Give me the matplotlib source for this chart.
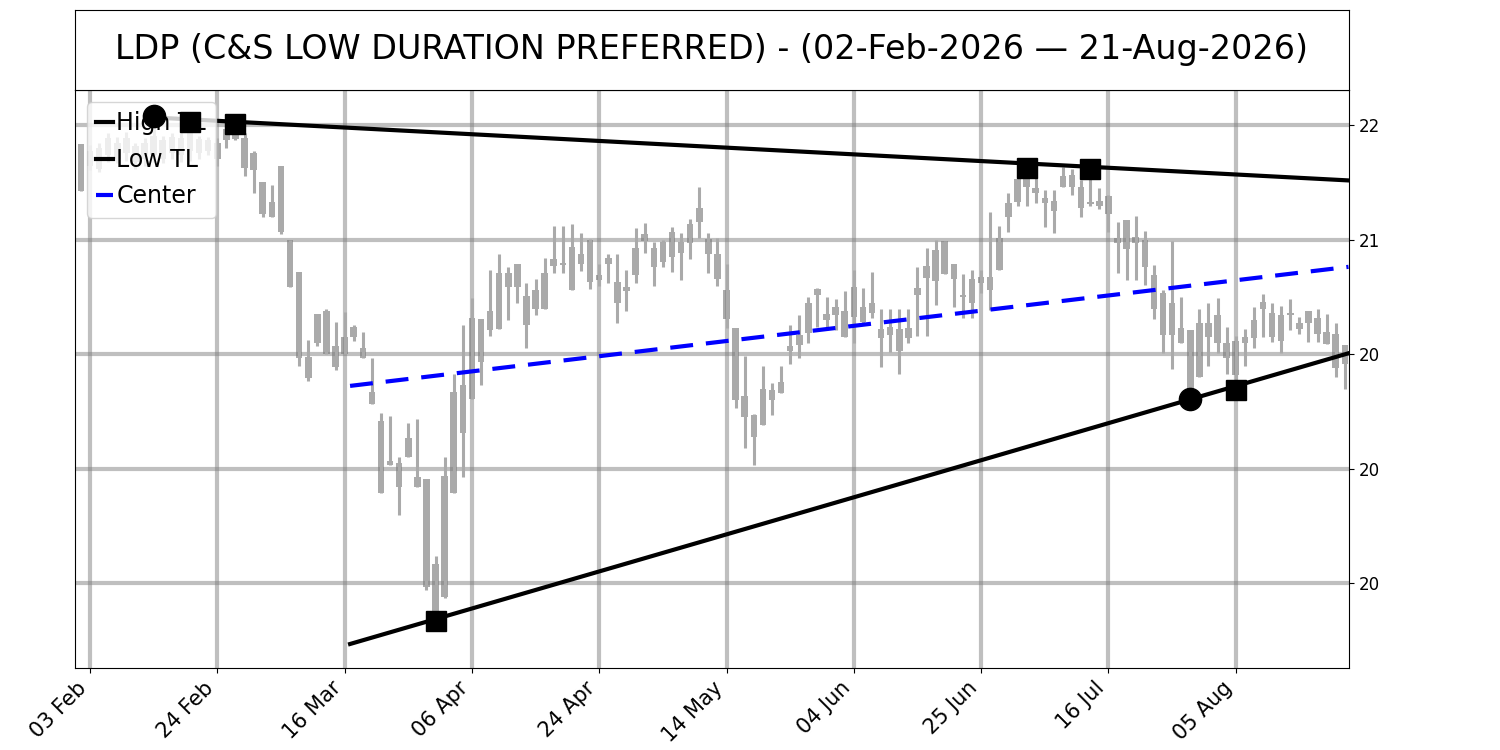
import matplotlib
matplotlib.use("Agg")
import matplotlib.pyplot as plt
import numpy as np

# daily bars, index 0 = 02-Feb-2026 ... 139 = 21-Aug-2026 (trading days)
opens = [21.43, 21.78, 21.62, 21.74, 21.85, 21.76, 21.82, 21.71, 21.74, 21.87,
         21.76, 21.89, 21.78, 21.88, 21.78, 21.71, 21.87, 21.99, 21.89, 21.61,
         21.51, 21.20, 21.07, 21.00, 20.72, 19.98, 20.10, 20.00, 20.07, 20.00,
         20.15, 20.06, 19.67, 19.42, 19.03, 18.84, 19.10, 18.93, 18.91, 17.71,
         17.88, 18.79, 19.31, 19.61, 20.31, 20.21, 20.22, 20.71, 20.59, 20.51,
         20.40, 20.40, 20.77, 20.80, 20.56, 20.88, 20.63, 20.69, 20.79, 20.63,
         20.55, 20.69, 20.99, 20.93, 20.81, 20.85, 20.98, 20.97, 21.16, 21.01,
         20.88, 20.56, 20.23, 19.64, 19.28, 19.38, 19.60, 19.66, 20.03, 20.17,
         20.19, 20.52, 20.35, 20.34, 20.38, 20.33, 20.41, 20.36, 20.22, 20.17,
         20.22, 20.14, 20.52, 20.67, 20.64, 20.70, 20.79, 20.52, 20.45, 20.62,
         20.56, 20.74, 21.20, 21.33, 21.54, 21.41, 21.37, 21.25, 21.46, 21.57,
         21.46, 21.31, 21.34, 21.38, 21.02, 20.92, 21.03, 21.00, 20.69, 20.54,
         20.17, 20.23, 20.21, 19.80, 20.27, 20.10, 20.10, 19.82, 20.15, 20.14,
         20.40, 20.36, 20.12, 20.34, 20.27, 20.27, 20.32, 20.20, 20.18, 19.92]
highs = [21.84, 21.83, 21.85, 21.93, 21.90, 21.94, 21.85, 21.89, 22.08, 21.91,
         21.93, 21.94, 22.03, 21.91, 21.90, 21.89, 22.00, 22.01, 21.93, 21.78,
         21.51, 21.48, 21.65, 21.00, 20.72, 20.13, 20.35, 20.40, 20.28, 20.37,
         20.26, 20.20, 19.97, 19.49, 19.46, 19.10, 19.40, 19.44, 18.91, 18.24,
         19.10, 19.83, 20.26, 20.49, 20.31, 20.74, 20.88, 20.76, 20.79, 20.62,
         20.66, 20.84, 21.12, 21.12, 21.14, 21.06, 21.01, 20.79, 20.88, 20.88,
         20.74, 21.10, 21.15, 20.98, 21.00, 21.11, 21.06, 21.18, 21.46, 21.06,
         21.02, 20.79, 20.23, 19.99, 19.48, 19.90, 19.75, 19.90, 20.26, 20.34,
         20.50, 20.58, 20.50, 20.48, 20.55, 20.74, 20.58, 20.72, 20.40, 20.40,
         20.40, 20.40, 20.76, 20.93, 21.00, 20.99, 20.79, 20.70, 20.74, 20.74,
         21.24, 21.12, 21.41, 21.54, 21.63, 21.54, 21.44, 21.44, 21.64, 21.62,
         21.52, 21.62, 21.45, 21.39, 21.16, 21.17, 21.21, 21.08, 20.78, 20.56,
         20.99, 20.50, 20.21, 20.40, 20.45, 20.49, 20.24, 20.16, 20.22, 20.41,
         20.53, 20.45, 20.42, 20.48, 20.33, 20.38, 20.40, 20.35, 20.27, 20.08]
lows = [21.43, 21.61, 21.59, 21.68, 21.67, 21.69, 21.62, 21.65, 21.68, 21.67,
        21.71, 21.68, 21.69, 21.71, 21.74, 21.65, 21.80, 21.87, 21.56, 21.41,
        21.20, 21.20, 21.05, 20.59, 19.90, 19.77, 20.07, 20.00, 19.86, 20.00,
        20.12, 19.97, 19.57, 18.79, 19.03, 18.60, 19.10, 18.84, 17.94, 17.67,
        17.87, 18.79, 18.93, 19.61, 19.73, 20.16, 20.22, 20.30, 20.45, 20.06,
        20.34, 20.40, 20.71, 20.71, 20.56, 20.73, 20.57, 20.60, 20.62, 20.27,
        20.38, 20.62, 20.89, 20.60, 20.76, 20.72, 20.65, 20.83, 21.02, 20.71,
        20.60, 20.23, 19.53, 19.18, 19.03, 19.38, 19.47, 19.66, 19.92, 19.97,
        20.10, 20.24, 20.24, 20.21, 20.15, 20.10, 20.27, 20.32, 19.89, 20.02,
        19.83, 20.10, 20.16, 20.16, 20.43, 20.70, 20.41, 20.32, 20.32, 20.54,
        20.39, 20.74, 21.07, 21.30, 21.30, 21.32, 21.11, 21.06, 21.46, 21.39,
        21.20, 21.30, 21.27, 21.07, 20.71, 20.65, 20.65, 20.61, 20.31, 20.01,
        19.87, 20.10, 19.61, 19.80, 19.90, 20.01, 19.83, 19.69, 19.90, 20.06,
        20.15, 20.11, 20.01, 20.21, 20.18, 20.11, 20.11, 20.09, 19.80, 19.70]
closes = [21.84, 21.65, 21.80, 21.89, 21.71, 21.89, 21.68, 21.85, 21.91, 21.71,
          21.90, 21.74, 21.97, 21.76, 21.87, 21.85, 21.97, 21.88, 21.63, 21.76,
          21.23, 21.33, 21.65, 20.59, 19.97, 19.79, 20.35, 20.38, 19.89, 20.15,
          20.24, 19.97, 19.57, 18.79, 19.07, 19.05, 19.27, 18.84, 17.97, 18.17,
          18.94, 19.67, 19.73, 20.32, 19.93, 20.38, 20.71, 20.59, 20.79, 20.26,
          20.56, 20.71, 20.83, 20.78, 20.94, 20.79, 21.00, 20.65, 20.84, 20.45,
          20.59, 20.93, 21.05, 20.76, 20.98, 21.07, 20.89, 21.14, 21.28, 20.88,
          20.66, 20.31, 19.60, 19.45, 19.47, 19.70, 19.69, 19.76, 20.07, 20.08,
          20.45, 20.57, 20.30, 20.41, 20.15, 20.59, 20.28, 20.45, 20.14, 20.24,
          20.03, 20.23, 20.58, 20.77, 20.91, 20.99, 20.66, 20.50, 20.66, 20.68,
          20.68, 21.02, 21.32, 21.53, 21.46, 21.45, 21.32, 21.34, 21.56, 21.46,
          21.28, 21.33, 21.30, 21.23, 20.97, 21.17, 20.97, 20.76, 20.40, 20.17,
          20.45, 20.10, 19.64, 20.27, 20.15, 20.34, 19.97, 20.12, 20.10, 20.30,
          20.46, 20.15, 20.34, 20.36, 20.22, 20.38, 20.18, 20.09, 19.88, 20.08]

tick_idx = [1, 15, 29, 43, 57, 71, 85, 99, 113, 127]
tick_labels = ["03 Feb", "24 Feb", "16 Mar", "06 Apr", "24 Apr",
               "14 May", "04 Jun", "25 Jun", "16 Jul", "05 Aug"]
y_ticks = [22, 21, 20, 19, 18]
y_labels = ["22", "21", "20", "20", "20"]

# trend lines (start / end in bar index and price)
high_tl_x = [8, 139.4]
high_tl_y = [22.07, 21.52]
low_tl_x = [29.6, 139.4]
low_tl_y = [17.47, 20.01]

# pivots
piv_high_circle = [8]
piv_high_square = [12, 17, 104, 111]
piv_low_circle = [122]
piv_low_square = [39, 127]

title = "LDP (C&S LOW DURATION PREFERRED) - (02-Feb-2026 \u2014 21-Aug-2026)"

o = np.array(opens)
h = np.array(highs)
l = np.array(lows)
c = np.array(closes)
x = np.arange(len(o))

fig = plt.figure(figsize=(15, 7.5), dpi=100)
ax = fig.add_axes([0.05, 0.1093, 0.8493, 0.7707])
tax = fig.add_axes([0.05, 0.88, 0.8493, 0.1067])

tax.set_xticks([])
tax.set_yticks([])
tax.text(0.5, 0.5, title, ha='center', va='center', fontsize=24, transform=tax.transAxes)

candle_col = '#aaaaaa'
ax.vlines(x, l, h, color=candle_col, lw=2.2)
ax.bar(x, np.abs(c - o), bottom=np.minimum(o, c), width=0.72, color=candle_col)

ax.plot(high_tl_x, high_tl_y, color='black', lw=3, label='High TL')
ax.plot(low_tl_x, low_tl_y, color='black', lw=3, label='Low TL')

# center line = midpoint of the two trend lines over the low line's span
cx = np.array(low_tl_x)
hi_at = np.interp(cx, high_tl_x, high_tl_y)
ax.plot(cx, (hi_at + np.array(low_tl_y)) / 2, color='blue', lw=3,
        ls=(0, (5.5, 3.1)), label='Center')

ax.plot(piv_high_circle, h[piv_high_circle], 'o', color='black', ms=16, zorder=6)
ax.plot(piv_high_square, h[piv_high_square], 's', color='black', ms=15, zorder=6)
ax.plot(piv_low_circle, l[piv_low_circle], 'o', color='black', ms=16, zorder=6)
ax.plot(piv_low_square, l[piv_low_square], 's', color='black', ms=15, zorder=6)

ax.set_xlim(-0.65, 139.45)
ax.set_ylim(17.26, 22.31)
ax.set_xticks(tick_idx)
ax.set_xticklabels(tick_labels, rotation=45, ha='right', fontsize=15)
ax.yaxis.tick_right()
ax.set_yticks(y_ticks)
ax.set_yticklabels(y_labels, fontsize=12)
ax.grid(True, color='gray', alpha=0.5, lw=3)

ax.legend(loc='upper left', fontsize=17, handlelength=0.7, handletextpad=0.15,
          labelspacing=0.53)

fig.savefig('out.png', dpi=100)
